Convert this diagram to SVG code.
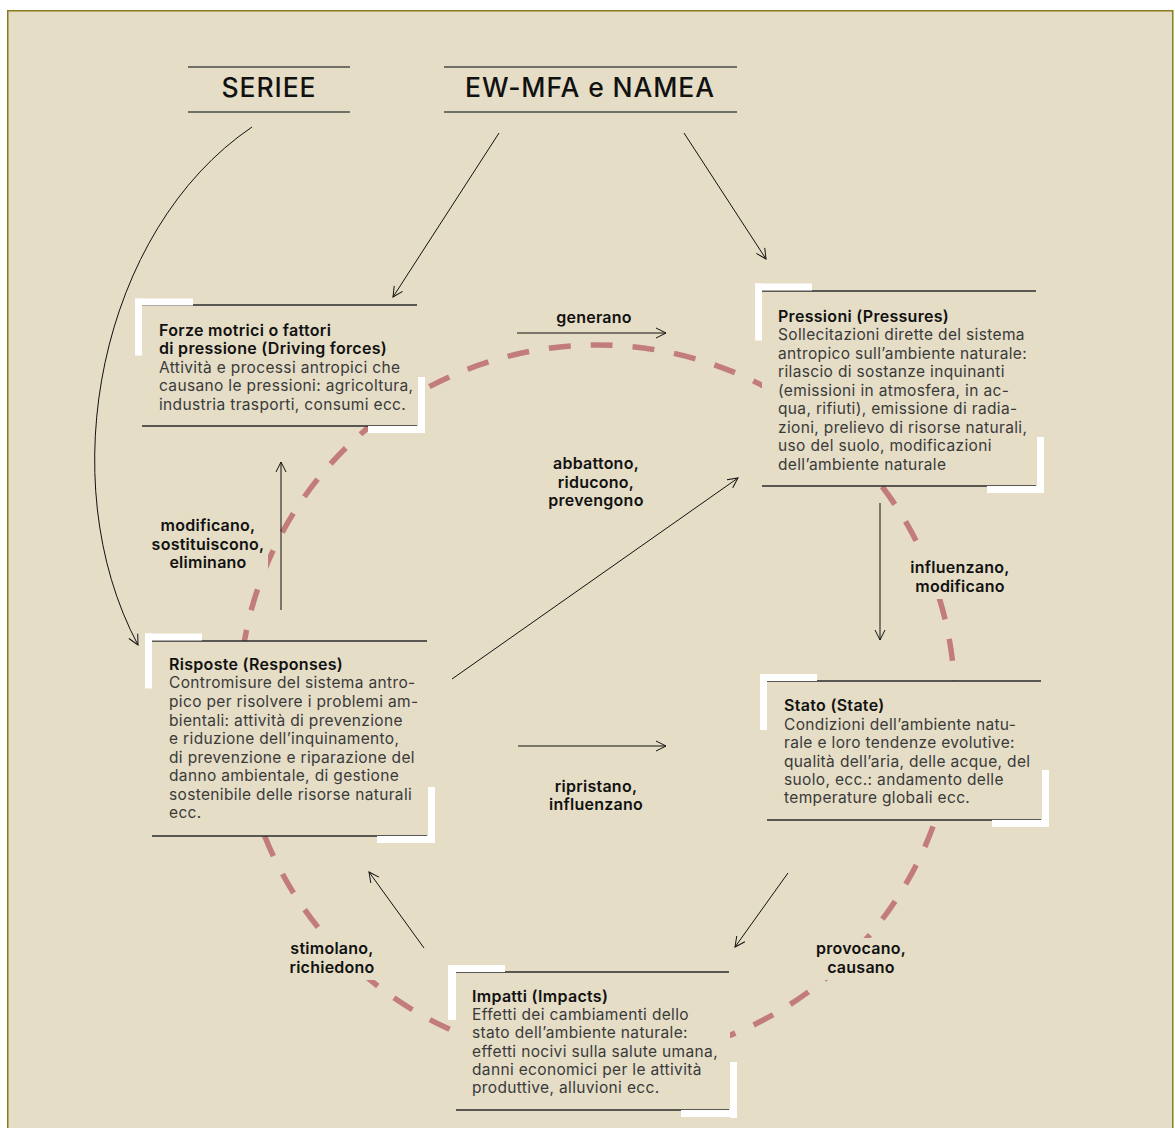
<svg xmlns="http://www.w3.org/2000/svg" width="1175" height="1128" viewBox="0 0 1175 1128">
<style>
.bg{fill:#e5ddc6}
.frame{fill:#e5ddc6;stroke:#8c7a1e;stroke-width:1.5}
.hline{stroke:#4a4a4a;stroke-width:1.6}
.head{font-family:Inter,"Noto Sans",sans-serif;font-size:26.5px;font-weight:500;letter-spacing:0.9px;fill:#111;text-anchor:middle}
.bline{stroke:#2a2a2a;stroke-width:1.4}
.white{fill:#ffffff}
.title{font-family:Inter,"Noto Sans",sans-serif;font-size:16px;font-weight:600;letter-spacing:0.3px;fill:#111}
.body{font-family:Inter,"Noto Sans",sans-serif;font-size:15.5px;font-weight:400;letter-spacing:0.35px;fill:#3a3a3a}
.lbl{font-family:Inter,"Noto Sans",sans-serif;font-size:16px;font-weight:600;letter-spacing:0.25px;fill:#111;text-anchor:middle}
.conn{fill:none;stroke:#111;stroke-width:1;marker-end:url(#ah)}
.cycle{fill:none;stroke:#c27c79;stroke-width:5.5;stroke-dasharray:22 20}
</style>
<defs>
<marker id="ah" viewBox="0 0 12 12" refX="11" refY="6" markerWidth="12" markerHeight="12" markerUnits="userSpaceOnUse" orient="auto">
<path d="M1,1 L11,6 L1,11" fill="none" stroke="#111" stroke-width="1"/>
</marker>
</defs>
<rect x="0" y="0" width="1175" height="1128" fill="#ffffff"/>
<rect class="frame" x="7.75" y="10.75" width="1165" height="1130"/>

<g id="header-seriee">
<line class="hline" x1="188" y1="67" x2="350" y2="67"/>
<line class="hline" x1="188" y1="112" x2="350" y2="112"/>
<text class="head" x="269" y="97">SERIEE</text>
</g>
<g id="header-ewmfa">
<line class="hline" x1="444" y1="67" x2="737" y2="67"/>
<line class="hline" x1="444" y1="112" x2="737" y2="112"/>
<text class="head" x="590" y="97">EW-MFA e NAMEA</text>
</g>

<circle id="cycle" class="cycle" cx="597" cy="703" r="358"/>

<g id="connectors">
<path class="conn" d="M252,127 C100,230 50,480 138,645"/>
<line class="conn" x1="499" y1="133" x2="393" y2="297"/>
<line class="conn" x1="684" y1="133" x2="766" y2="259"/>
<line class="conn" x1="517" y1="333" x2="666" y2="333"/>
<line class="conn" x1="281" y1="610" x2="281" y2="462"/>
<line class="conn" x1="452" y1="679" x2="738" y2="478"/>
<line class="conn" x1="880" y1="503" x2="880" y2="640"/>
<line class="conn" x1="518" y1="746" x2="666" y2="746"/>
<line class="conn" x1="788" y1="873" x2="735" y2="947"/>
<line class="conn" x1="424" y1="948" x2="369" y2="872"/>
</g>

<g id="labels">
<text class="lbl" x="594" y="323">generano</text>
<text class="lbl" x="596" y="469">abbattono,</text>
<text class="lbl" x="596" y="488">riducono,</text>
<text class="lbl" x="596" y="506">prevengono</text>
<rect class="bg" x="148" y="514" width="120" height="60"/>
<text class="lbl" x="208" y="531">modificano,</text>
<text class="lbl" x="208" y="550">sostituiscono,</text>
<text class="lbl" x="208" y="568">eliminano</text>
<rect class="bg" x="906" y="557" width="108" height="42"/>
<text class="lbl" x="960" y="573">influenzano,</text>
<text class="lbl" x="960" y="592">modificano</text>
<text class="lbl" x="596" y="792">ripristano,</text>
<text class="lbl" x="596" y="810">influenzano</text>
<rect class="bg" x="284" y="938" width="98" height="42"/>
<text class="lbl" x="332" y="954">stimolano,</text>
<text class="lbl" x="332" y="973">richiedono</text>
<rect class="bg" x="811" y="938" width="100" height="42"/>
<text class="lbl" x="861" y="954">provocano,</text>
<text class="lbl" x="861" y="973">causano</text>
</g>

<g id="node-forze">
<rect class="bg" x="142" y="305" width="276" height="121"/>
<line class="bline" x1="142" y1="305" x2="417" y2="305"/>
<line class="bline" x1="142" y1="426" x2="417" y2="426"/>
<rect class="white" x="135" y="298.5" width="58" height="7"/>
<rect class="white" x="135" y="298.5" width="7" height="57"/>
<rect class="white" x="418" y="377" width="7" height="56"/>
<rect class="white" x="368" y="426" width="57" height="7"/>
<text class="title" x="159" y="336">Forze motrici o fattori</text>
<text class="title" x="159" y="354">di pressione (Driving forces)</text>
<text class="body" x="159" y="373">Attività e processi antropici che</text>
<text class="body" x="159" y="391">causano le pressioni: agricoltura,</text>
<text class="body" x="159" y="410">industria trasporti, consumi ecc.</text>
</g>

<g id="node-pressioni">
<rect class="bg" x="762" y="291" width="275" height="195"/>
<line class="bline" x1="762" y1="291" x2="1036" y2="291"/>
<line class="bline" x1="762" y1="486" x2="1036" y2="486"/>
<rect class="white" x="755" y="283.5" width="57" height="7"/>
<rect class="white" x="755" y="283.5" width="7" height="57"/>
<rect class="white" x="1037" y="437" width="7" height="56"/>
<rect class="white" x="987" y="486" width="57" height="7"/>
<text class="title" x="778" y="322">Pressioni (Pressures)</text>
<text class="body" x="778" y="340">Sollecitazioni dirette del sistema</text>
<text class="body" x="778" y="359">antropico sull’ambiente naturale:</text>
<text class="body" x="778" y="377">rilascio di sostanze inquinanti</text>
<text class="body" x="778" y="396">(emissioni in atmosfera, in ac-</text>
<text class="body" x="778" y="414">qua, rifiuti), emissione di radia-</text>
<text class="body" x="778" y="433">zioni, prelievo di risorse naturali,</text>
<text class="body" x="778" y="451">uso del suolo, modificazioni</text>
<text class="body" x="778" y="470">dell’ambiente naturale</text>
</g>

<g id="node-risposte">
<rect class="bg" x="152" y="641" width="276" height="195"/>
<line class="bline" x1="152" y1="641" x2="427" y2="641"/>
<line class="bline" x1="152" y1="836" x2="427" y2="836"/>
<rect class="white" x="145" y="633.5" width="57" height="7"/>
<rect class="white" x="145" y="633.5" width="7" height="55"/>
<rect class="white" x="428" y="787" width="7" height="56"/>
<rect class="white" x="377" y="836" width="58" height="7"/>
<text class="title" x="169" y="670">Risposte (Responses)</text>
<text class="body" x="169" y="688">Contromisure del sistema antro-</text>
<text class="body" x="169" y="707">pico per risolvere i problemi am-</text>
<text class="body" x="169" y="726">bientali: attività di prevenzione</text>
<text class="body" x="169" y="744">e riduzione dell’inquinamento,</text>
<text class="body" x="169" y="763">di prevenzione e riparazione del</text>
<text class="body" x="169" y="781">danno ambientale, di gestione</text>
<text class="body" x="169" y="800">sostenibile delle risorse naturali</text>
<text class="body" x="169" y="818">ecc.</text>
</g>

<g id="node-stato">
<rect class="bg" x="767" y="681" width="275" height="139"/>
<line class="bline" x1="767" y1="681" x2="1041" y2="681"/>
<line class="bline" x1="767" y1="820" x2="1041" y2="820"/>
<rect class="white" x="760" y="674" width="57" height="7"/>
<rect class="white" x="760" y="674" width="7" height="56"/>
<rect class="white" x="1042" y="770" width="7" height="57"/>
<rect class="white" x="992" y="820" width="57" height="7"/>
<text class="title" x="784" y="711">Stato (State)</text>
<text class="body" x="784" y="730">Condizioni dell’ambiente natu-</text>
<text class="body" x="784" y="748">rale e loro tendenze evolutive:</text>
<text class="body" x="784" y="767">qualità dell’aria, delle acque, del</text>
<text class="body" x="784" y="785">suolo, ecc.: andamento delle</text>
<text class="body" x="784" y="803">temperature globali ecc.</text>
</g>

<g id="node-impatti">
<rect class="bg" x="456" y="972" width="274" height="138"/>
<line class="bline" x1="456" y1="972" x2="729" y2="972"/>
<line class="bline" x1="456" y1="1110" x2="729" y2="1110"/>
<rect class="white" x="448" y="965" width="57" height="7"/>
<rect class="white" x="448" y="965" width="8" height="55"/>
<rect class="white" x="730" y="1062" width="7" height="56"/>
<rect class="white" x="681" y="1110" width="56" height="7"/>
<text class="title" x="472" y="1002">Impatti (Impacts)</text>
<text class="body" x="472" y="1020">Effetti dei cambiamenti dello</text>
<text class="body" x="472" y="1038">stato dell’ambiente naturale:</text>
<text class="body" x="472" y="1057">effetti nocivi sulla salute umana,</text>
<text class="body" x="472" y="1075">danni economici per le attività</text>
<text class="body" x="472" y="1093">produttive, alluvioni ecc.</text>
</g>
</svg>
